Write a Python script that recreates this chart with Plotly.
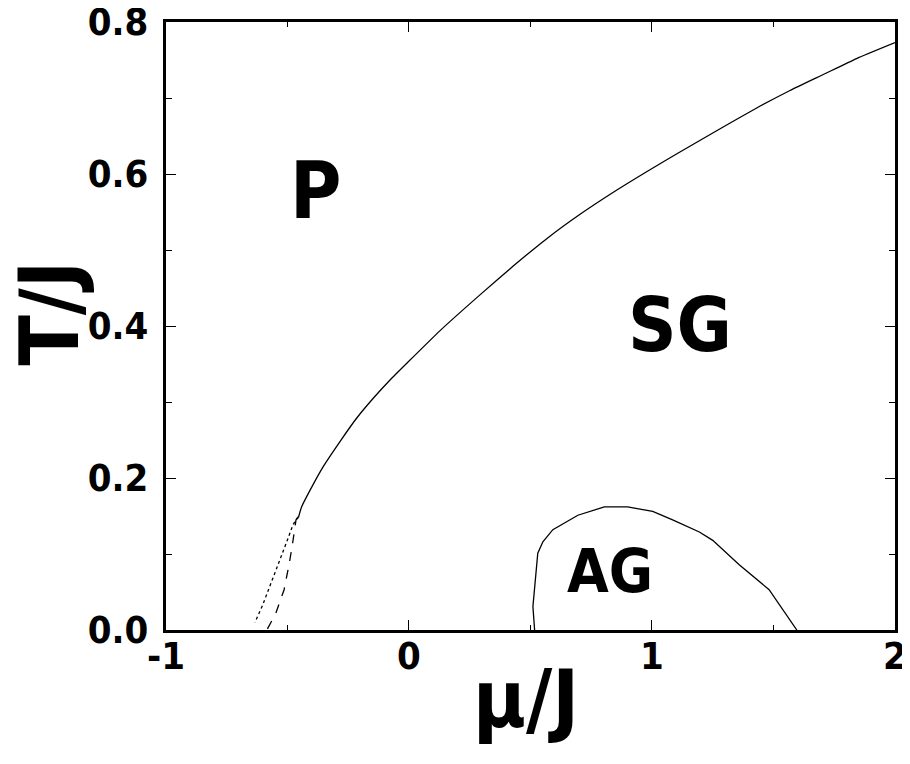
import plotly.graph_objects as go

# P / SG boundary (solid)
mu_psg = [-0.455, -0.442, -0.407, -0.353, -0.284, -0.215, -0.147, -0.078, -0.009,
          0.128, 0.292, 0.429, 0.567, 0.704, 0.841, 0.978, 1.115, 1.293, 1.431,
          1.568, 1.705, 1.842, 2.0]
t_psg = [0.148, 0.162, 0.184, 0.215, 0.248, 0.279, 0.305, 0.329, 0.351,
         0.394, 0.441, 0.479, 0.515, 0.547, 0.576, 0.603, 0.629, 0.662, 0.687,
         0.710, 0.731, 0.752, 0.773]

# low-temperature continuation (dashed)
mu_dash = [-0.455, -0.465, -0.479, -0.4925, -0.514, -0.548, -0.585]
t_dash = [0.148, 0.145, 0.114, 0.088, 0.053, 0.022, 0.0]

# dotted continuation
mu_dot = [-0.457, -0.478, -0.502, -0.525, -0.549, -0.573, -0.602, -0.634]
t_dot = [0.149, 0.138, 0.117, 0.098, 0.077, 0.056, 0.033, 0.010]

# AG region boundary
mu_ag = [0.517, 0.510, 0.530, 0.551, 0.592, 0.695, 0.804, 0.900, 1.003, 1.085,
         1.195, 1.250, 1.359, 1.482, 1.596]
t_ag = [0.0, 0.031, 0.101, 0.116, 0.132, 0.151, 0.162, 0.162, 0.156, 0.145,
        0.129, 0.118, 0.086, 0.053, 0.0]

phase_labels = ["P", "SG", "AG"]
label_mu = [-0.383, 1.115, 0.827]
label_t = [0.578, 0.401, 0.078]
label_size = [78, 75, 60]

FONT = "DejaVu Sans Condensed, Liberation Sans Narrow, Liberation Sans, sans-serif"

fig = go.Figure()
fig.add_trace(go.Scatter(x=mu_psg, y=t_psg, mode="lines",
                         line=dict(color="black", width=1.3, shape="spline", smoothing=0.5)))
fig.add_trace(go.Scatter(x=mu_dash, y=t_dash, mode="lines",
                         line=dict(color="black", width=1.3, dash="dash")))
fig.add_trace(go.Scatter(x=mu_dot, y=t_dot, mode="lines",
                         line=dict(color="black", width=1.3, dash="dot")))
fig.add_trace(go.Scatter(x=mu_ag, y=t_ag, mode="lines",
                         line=dict(color="black", width=1.3)))

for txt, x, y, s in zip(phase_labels, label_mu, label_t, label_size):
    fig.add_annotation(x=x, y=y, text=txt, showarrow=False,
                       xanchor="center", yanchor="middle",
                       font=dict(family=FONT, size=s, color="black", weight="bold"))

# axis titles
fig.add_annotation(x=0.494, y=-0.114, xref="paper", yref="paper", text="μ/J",
                   showarrow=False, xanchor="center", yanchor="middle",
                   font=dict(family=FONT, size=80, color="black", weight="bold"))
fig.add_annotation(x=-0.16, y=0.521, xref="paper", yref="paper", text="T/J",
                   textangle=-90, showarrow=False, xanchor="center", yanchor="middle",
                   font=dict(family=FONT, size=82, color="black", weight="bold"))

axis_common = dict(showgrid=False, zeroline=False, showline=True, linecolor="black",
                   linewidth=3, mirror="ticks", ticks="inside", ticklen=10,
                   tickwidth=1, tickcolor="black", automargin=False,
                   ticklabeloverflow="allow",
                   tickfont=dict(family=FONT, size=38, color="black", weight="bold"))

fig.update_xaxes(range=[-1, 2.0001], tickvals=[-1, 0, 1, 2], ticktext=["-1", "0", "1", "2"],
                 minor=dict(ticks="inside", ticklen=5, dtick=0.5, tickcolor="black"),
                 ticklabelstandoff=-10,
                 **axis_common)
fig.update_yaxes(range=[0, 0.8001], tickvals=[0, 0.2, 0.4, 0.6, 0.8],
                 ticktext=["0.0", "0.2", "0.4", "0.6", "0.8"],
                 minor=dict(ticks="inside", ticklen=6, dtick=0.1, tickcolor="black"),
                 ticklabelstandoff=7,
                 **axis_common)

# page body adds an 8px offset; margins compensate so the frame lands where the reference has it
fig.update_layout(width=910, height=764, showlegend=False,
                  plot_bgcolor="white", paper_bgcolor="white",
                  margin=dict(l=158, r=23, t=14, b=142))

fig.write_html("out.html")
